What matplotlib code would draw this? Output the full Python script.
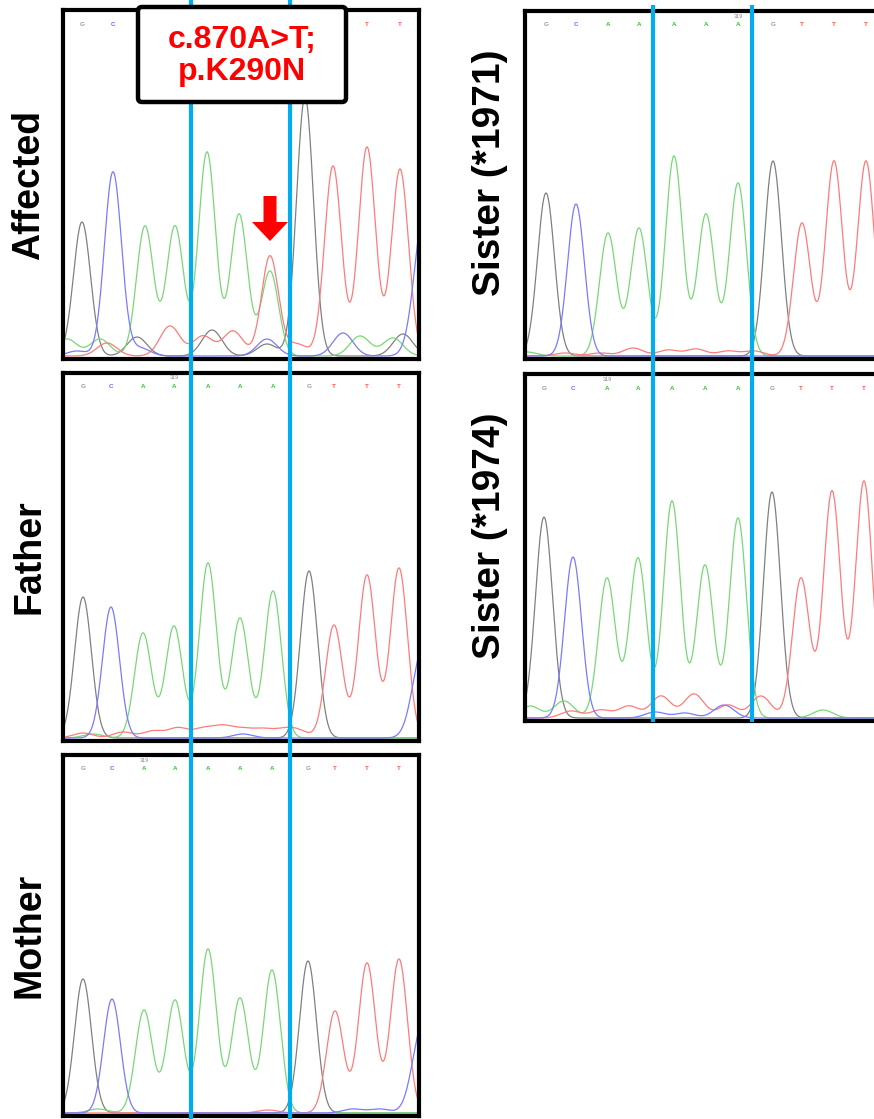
"""
Sanger chromatograms of the family, codon 290 bracketed
"""
import numpy as np
import matplotlib.pyplot as plt
from matplotlib.patches import FancyBboxPatch, FancyArrow

plt.rcParams['font.family'] = ['Liberation Sans', 'DejaVu Sans']

# called bases (same read in every sample) and where the codon starts/ends (scan units)
bases = list("GCAAAAAGTTT")
codon_bounds = [128, 227]
pos_label = "319"

# peak scan positions and heights of the called bases, per sample
affected_pos = [19, 50, 82, 112, 144, 176, 207, 242, 270, 304, 337]
affected_hgt = [134, 184, 130, 130, 204, 142, 85, 259, 190, 209, 187]
father_pos = [20, 48, 80, 111, 145, 177, 210, 246, 271, 304, 336]
father_hgt = [141, 131, 105, 112, 175, 120, 147, 167, 113, 163, 170]
mother_pos = [20, 49, 81, 112, 145, 177, 209, 245, 272, 304, 336]
mother_hgt = [134, 114, 103, 113, 164, 115, 143, 152, 102, 150, 154]
sister71_pos = [21, 51, 83, 114, 149, 181, 213, 248, 277, 309, 341]
sister71_hgt = [163, 152, 123, 128, 200, 142, 173, 195, 133, 195, 195]
sister74_pos = [19, 48, 82, 113, 147, 180, 213, 247, 276, 307, 339]
sister74_hgt = [201, 161, 140, 160, 217, 153, 200, 226, 140, 227, 237]

# heterozygous T under the A at c.870 in the affected child
affected_het = [("T", 207, 100)]

# background / noise peaks (channel, scan position, height)
affected_minor = [("T", 44, 13), ("T", 107, 30), ("T", 140, 20), ("T", 170, 25), ("T", 234, 12),
                  ("G", 74, 19), ("G", 149, 26), ("G", 204, 12), ("G", 340, 22),
                  ("C", 14, 5), ("C", 77, 8), ("C", 204, 17), ("C", 280, 23), ("C", 362, 150),
                  ("A", 4, 17), ("A", 37, 17), ("A", 297, 20), ("A", 330, 18)]
father_minor = [("T", 20, 5), ("T", 60, 6), ("T", 90, 7), ("T", 115, 10), ("T", 140, 9),
                ("T", 160, 11), ("T", 180, 8), ("T", 200, 8), ("T", 220, 7), ("T", 235, 7),
                ("C", 180, 4), ("C", 360, 90), ("A", 30, 4)]
mother_minor = [("A", 35, 4), ("C", 290, 4), ("C", 317, 4), ("C", 360, 90), ("T", 205, 3)]
sister71_minor = [("T", 40, 3), ("T", 75, 3), ("T", 108, 8), ("T", 143, 6), ("T", 171, 7),
                  ("T", 203, 5), ("T", 229, 5), ("A", 2, 4)]
sister74_minor = [("A", 5, 12), ("A", 39, 17), ("A", 298, 8),
                  ("T", 46, 7), ("T", 76, 8), ("T", 104, 12), ("T", 136, 22), ("T", 169, 24),
                  ("T", 203, 13), ("T", 236, 22),
                  ("C", 130, 6), ("C", 160, 5), ("C", 199, 13)]

# base calls of the affected read that stay visible beside the callout box
affected_visible_calls = [0, 1, 9, 10]

trace_colors = {'G': '#808080', 'A': '#78d878', 'T': '#ff7a7a', 'C': '#7a7aff'}
letter_colors = {'G': '#9a9a9a', 'A': '#3cc23c', 'T': '#ff5050', 'C': '#6a6aff'}

FIG_W, FIG_H = 874, 1119
PANEL_W = 356
SIGMA_MAIN, SIGMA_MINOR = 8.5, 10


def px_axes(fig, x0, y0, x1, y1):
    """Axes from pixel box (top-left origin)."""
    return fig.add_axes([x0 / FIG_W, 1 - y1 / FIG_H, (x1 - x0) / FIG_W, (y1 - y0) / FIG_H])


def draw_panel(ax, pos, hgt, minor, extra, height, calls):
    x = np.linspace(0, PANEL_W, 1500)
    for ch in "GATC":
        y = np.zeros_like(x)
        for b, p, h in zip(bases, pos, hgt):
            if b == ch:
                y += h * np.exp(-(x - p) ** 2 / (2 * SIGMA_MAIN ** 2))
        for b, p, h in extra:
            if b == ch:
                y += h * np.exp(-(x - p) ** 2 / (2 * SIGMA_MAIN ** 2))
        for b, p, h in minor:
            if b == ch:
                y += h * np.exp(-(x - p) ** 2 / (2 * SIGMA_MINOR ** 2))
        ax.plot(x, y, color=trace_colors[ch], lw=0.9)

    # base calls along the top
    for i in calls:
        ax.text(pos[i], 1 - 14 / height, bases[i], transform=ax.get_xaxis_transform(),
                ha='center', va='center', fontsize=4.5, fontweight='bold',
                color=letter_colors[bases[i]])

    ax.set_xlim(0, PANEL_W)
    ax.set_ylim(-3, height - 3)
    ax.set_xticks([])
    ax.set_yticks([])
    for sp in ax.spines.values():
        sp.set_linewidth(3.0)
        sp.set_color('black')


fig = plt.figure(figsize=(FIG_W / 100, FIG_H / 100), dpi=100)

all_calls = list(range(len(bases)))
panels = [
    ("Affected", 63, 10, 359, affected_pos, affected_hgt, affected_minor, affected_het,
     None, affected_visible_calls),
    ("Father", 63, 373, 741, father_pos, father_hgt, father_minor, [], 3, all_calls),
    ("Mother", 63, 755, 1116, mother_pos, mother_hgt, mother_minor, [], 2, all_calls),
    ("Sister (*1971)", 525, 11, 359, sister71_pos, sister71_hgt, sister71_minor, [], 6, all_calls),
    ("Sister (*1974)", 525, 374, 721, sister74_pos, sister74_hgt, sister74_minor, [], 2, all_calls),
]

for name, x0, y0, y1, pos, hgt, minor, extra, lab_idx, calls in panels:
    ax = px_axes(fig, x0, y0, x0 + PANEL_W, y1)
    draw_panel(ax, pos, hgt, minor, extra, y1 - y0, calls)
    if lab_idx is not None:
        ax.text(pos[lab_idx], 1 - 5 / (y1 - y0), pos_label, transform=ax.get_xaxis_transform(),
                ha='center', va='center', fontsize=4, color='#888888')

# overlay in pixel coordinates for lines, labels and the callout
ov = fig.add_axes([0, 0, 1, 1])
ov.set_xlim(0, FIG_W)
ov.set_ylim(FIG_H, 0)
ov.axis('off')
ov.set_zorder(10)

for b in codon_bounds:
    ov.plot([63 + b, 63 + b], [0, FIG_H], color='#00aeef', lw=3.0, zorder=1,
            solid_capstyle='butt')
    ov.plot([525 + b, 525 + b], [5, 722], color='#00aeef', lw=3.0, zorder=1,
            solid_capstyle='butt')

# sample labels
for name, x0, y0, y1, *_ in panels:
    left = x0 < 300
    lx = 29 if left else 490
    cy = (y0 + y1) / 2 + (0 if left else -12)
    ov.text(lx, cy, name, rotation=90, ha='center', va='center',
            fontsize=27 if left else 28, fontweight='bold', color='black')

# mutation callout
box = FancyBboxPatch((138, 7), 208, 95, boxstyle="round,pad=0,rounding_size=4",
                     lw=3.2, ec='black', fc='white', zorder=5)
ov.add_patch(box)
ov.text(242, 56, "c.870A>T;\np.K290N", ha='center', va='center', fontsize=23,
        fontweight='bold', color='#ff0000', linespacing=1.12, zorder=6)

arrow_x = 63 + affected_het[0][1]
ov.add_patch(FancyArrow(arrow_x, 196, 0, 45, width=13, head_width=36, head_length=19,
                        length_includes_head=True, color='#ff0000', lw=0, zorder=4))

fig.savefig('out.png', dpi=100)
